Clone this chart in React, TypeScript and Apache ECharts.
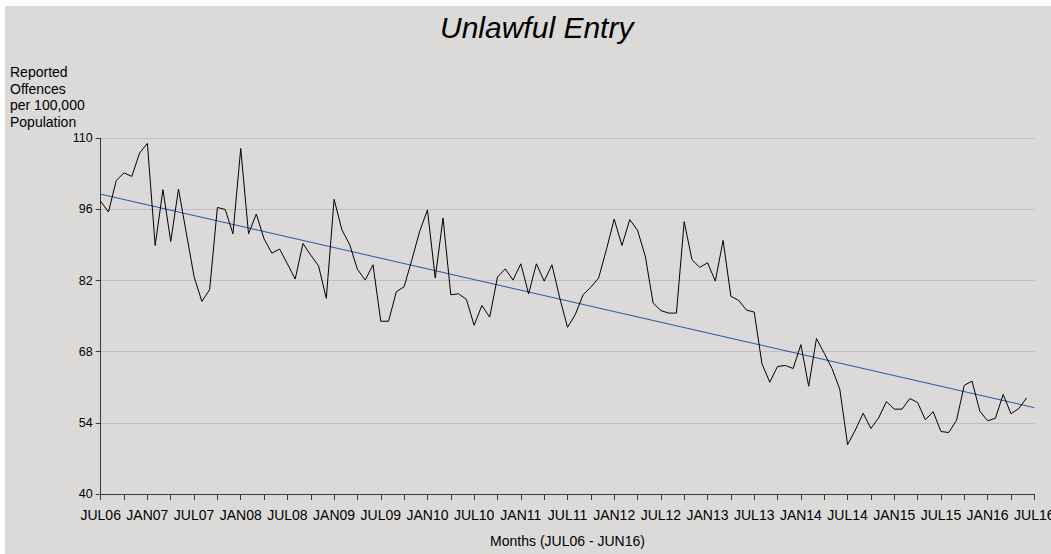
import React, { useEffect, useRef } from "react";
import * as echarts from "echarts";

const tickLabels = [
  "JUL06", "JAN07", "JUL07", "JAN08", "JUL08", "JAN09", "JUL09", "JAN10", "JUL10", "JAN11",
  "JUL11", "JAN12", "JUL12", "JAN13", "JUL13", "JAN14", "JUL14", "JAN15", "JUL15", "JAN16", "JUL16",
];

// Monthly values JUL06 .. JUN16 (120 months)
const offences = [
  97.6, 95.5, 101.7, 103.2, 102.5, 107.1, 109.0, 88.9, 99.9, 89.7,
  100.0, 91.4, 82.8, 77.9, 80.2, 96.4, 96.0, 91.2, 108.0, 91.2,
  95.1, 90.2, 87.4, 88.2, 85.3, 82.3, 89.3, 87.0, 84.9, 78.5,
  98.0, 92.0, 89.1, 84.2, 82.1, 85.1, 74.0, 74.0, 79.8, 80.8,
  86.1, 91.7, 95.9, 82.5, 94.3, 79.2, 79.4, 78.3, 73.2, 77.1,
  74.8, 82.7, 84.3, 82.1, 85.3, 79.4, 85.3, 81.9, 85.1, 78.6,
  72.8, 75.3, 79.2, 80.7, 82.5, 88.1, 94.1, 88.9, 94.0, 91.9,
  86.8, 77.6, 76.1, 75.6, 75.6, 93.6, 86.1, 84.6, 85.5, 81.9,
  89.9, 78.9, 78.1, 76.2, 75.8, 65.6, 62.0, 65.1, 65.3, 64.7,
  69.4, 61.2, 70.6, 67.7, 64.7, 60.6, 49.7, 52.6, 55.9, 52.9,
  55.0, 58.2, 56.7, 56.7, 58.8, 58.0, 54.6, 56.2, 52.3, 52.1,
  54.5, 61.4, 62.2, 56.3, 54.4, 54.9, 59.6, 55.8, 56.8, 58.9,
];

// Linear trend endpoints (month 0 and month 120)
const trendMonths = [0, 120];
const trendValues = [99.0, 57.0];

const yTicks = { min: 40, max: 110, step: 14 };

const FONT = "'Liberation Sans', Arial, sans-serif";

export default function App() {
  const ref = useRef<HTMLDivElement>(null);

  useEffect(() => {
    if (!ref.current) return;
    const chart = echarts.init(ref.current, null, { renderer: "svg" });
    chart.setOption({
      animation: false,
      backgroundColor: "#dbdad9",
      textStyle: { fontFamily: FONT },
      title: {
        text: "Unlawful Entry",
        left: 430,
        top: 1,
        textStyle: {
          fontFamily: FONT,
          fontStyle: "italic",
          fontWeight: "normal",
          fontSize: 30,
          color: "#000",
        },
      },
      graphic: [
        {
          type: "text",
          left: 5,
          top: 58,
          style: {
            text: "Reported\nOffences\nper 100,000\nPopulation",
            font: `14px ${FONT}`,
            lineHeight: 16.5,
            fill: "#000",
          },
        },
      ],
      grid: {
        left: 95.7,
        top: 132.3,
        right: 16.7,
        bottom: 60,
        containLabel: false,
        outerBoundsMode: "none",
      },
      xAxis: {
        type: "value",
        min: 0,
        max: 120,
        interval: 3,
        name: "Months (JUL06 - JUN16)",
        nameLocation: "middle",
        nameGap: 40,
        nameTextStyle: { fontFamily: FONT, fontSize: 14, color: "#000" },
        axisLine: { lineStyle: { color: "#3a3a3a", width: 1 } },
        axisTick: { show: true, length: 6, lineStyle: { color: "#3a3a3a" } },
        axisLabel: {
          margin: 14,
          fontSize: 14,
          color: "#000",
          fontFamily: FONT,
          showMaxLabel: true,
          showMinLabel: true,
          formatter: (v: number) => (v % 6 === 0 ? tickLabels[v / 6] ?? "" : ""),
        },
        splitLine: { show: false },
      },
      yAxis: {
        type: "value",
        min: yTicks.min,
        max: yTicks.max,
        interval: yTicks.step,
        axisLine: { show: true, lineStyle: { color: "#3a3a3a", width: 1 } },
        axisTick: { show: true, length: 5, lineStyle: { color: "#3a3a3a" } },
        axisLabel: { margin: 8, fontSize: 12.5, color: "#000", fontFamily: FONT },
        splitLine: { show: true, lineStyle: { color: "#bfbebd", width: 1.2 } },
      },
      series: [
        {
          type: "line",
          data: offences.map((v, i) => [i, v]),
          showSymbol: false,
          lineStyle: { color: "#000", width: 1 },
          itemStyle: { color: "#000" },
          z: 3,
        },
        {
          type: "line",
          data: trendMonths.map((m, i) => [m, trendValues[i]]),
          showSymbol: false,
          lineStyle: { color: "#2557a8", width: 1 },
          itemStyle: { color: "#2557a8" },
          z: 2,
        },
      ],
    });
    return () => chart.dispose();
  }, []);

  return (
    <div style={{ position: "fixed", left: 0, top: 0, width: 1051, height: 554, background: "#fff" }}>
      <div ref={ref} style={{ position: "absolute", left: 5, top: 6, width: 1046, height: 548 }} />
    </div>
  );
}
